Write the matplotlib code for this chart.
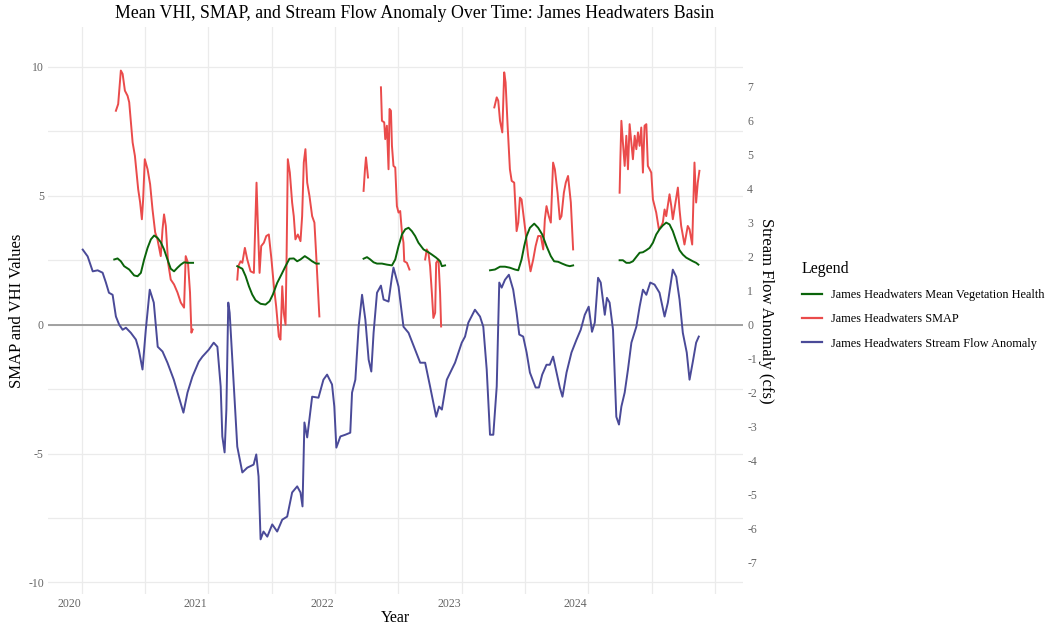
import numpy as np
import matplotlib
matplotlib.use("Agg")
import matplotlib.pyplot as plt
from matplotlib.lines import Line2D

plt.rcParams['font.family'] = ['Liberation Serif', 'DejaVu Serif']

nan = np.nan

# ---------------- data ----------------
# Mean Vegetation Health (VHI, left axis); NaN separates the seasons
vhi_year = [
    2020.257, 2020.283, 2020.309, 2020.335, 2020.375, 2020.414, 2020.441, 2020.467, 2020.493, 2020.520,
    2020.546, 2020.572, 2020.598, 2020.624, 2020.650, 2020.677, 2020.703, 2020.729, 2020.756, 2020.782,
    2020.808, 2020.835, 2020.861, 2020.879, nan,
    2021.228, 2021.268, 2021.294, 2021.320, 2021.346, 2021.372, 2021.412, 2021.451, 2021.483, 2021.509,
    2021.543, 2021.577, 2021.609, 2021.640, 2021.674, 2021.701, 2021.727, 2021.761, 2021.792, 2021.819,
    2021.850, 2021.871, nan,
    2022.225, 2022.252, 2022.278, 2022.304, 2022.331, 2022.370, 2022.409, 2022.449, 2022.475, 2022.501,
    2022.528, 2022.554, 2022.580, 2022.606, 2022.632, 2022.658, 2022.698, 2022.737, 2022.764, 2022.798,
    2022.829, 2022.843, 2022.868, nan,
    2023.223, 2023.262, 2023.302, 2023.341, 2023.380, 2023.420, 2023.446, 2023.472, 2023.493, 2023.512,
    2023.538, 2023.572, 2023.603, 2023.635, 2023.669, 2023.703, 2023.729, 2023.761, 2023.792, 2023.827,
    2023.853, 2023.879, nan,
    2024.246, 2024.272, 2024.299, 2024.325, 2024.351, 2024.378, 2024.404, 2024.430, 2024.457, 2024.483,
    2024.509, 2024.535, 2024.561, 2024.587, 2024.614, 2024.640, 2024.666, 2024.693, 2024.719, 2024.745,
    2024.772, 2024.798, 2024.824, 2024.850, 2024.868,
]
vhi_value = [
    2.53, 2.57, 2.46, 2.27, 2.14, 1.91, 1.88, 2.01, 2.53, 2.98,
    3.31, 3.46, 3.37, 3.20, 2.92, 2.53, 2.17, 2.07, 2.21, 2.33,
    2.42, 2.40, 2.40, 2.40, nan,
    2.27, 2.17, 1.88, 1.49, 1.17, 0.95, 0.81, 0.78, 0.91, 1.17,
    1.62, 1.95, 2.27, 2.56, 2.57, 2.46, 2.53, 2.66, 2.56, 2.46,
    2.37, 2.37, nan,
    2.56, 2.62, 2.53, 2.42, 2.37, 2.37, 2.33, 2.30, 2.53, 3.05,
    3.50, 3.70, 3.76, 3.63, 3.44, 3.18, 2.92, 2.81, 2.72, 2.60,
    2.46, 2.27, 2.30, nan,
    2.11, 2.14, 2.25, 2.25, 2.21, 2.14, 2.11, 2.53, 3.05, 3.44,
    3.76, 3.92, 3.76, 3.50, 3.05, 2.66, 2.46, 2.44, 2.37, 2.30,
    2.27, 2.30, nan,
    2.50, 2.50, 2.40, 2.40, 2.46, 2.63, 2.79, 2.81, 2.89, 2.98,
    3.18, 3.50, 3.70, 3.85, 3.96, 3.89, 3.63, 3.24, 2.89, 2.72,
    2.60, 2.53, 2.46, 2.40, 2.33,
]

# SMAP (left axis); NaN marks missing stretches
smap_year = [
    2020.270, 2020.288, 2020.309, 2020.323, 2020.341, 2020.362, 2020.375, 2020.402, 2020.420, 2020.446,
    2020.461, 2020.475, 2020.485, 2020.498, 2020.520, 2020.540, 2020.559, 2020.580, 2020.598, 2020.624,
    2020.638, 2020.650, 2020.664, 2020.682, 2020.703, 2020.729, 2020.756, 2020.782, 2020.808, 2020.821,
    2020.839, 2020.855, 2020.866, 2020.876, nan,
    2021.228, 2021.236, 2021.254, 2021.268, 2021.288, 2021.307, 2021.333, 2021.359, 2021.372, 2021.380,
    2021.391, 2021.404, 2021.417, 2021.438, 2021.457, 2021.477, 2021.498, 2021.517, 2021.535, 2021.556,
    2021.569, 2021.583, 2021.595, 2021.609, 2021.617, 2021.627, 2021.643, 2021.661, 2021.674, 2021.687,
    2021.706, 2021.727, 2021.740, 2021.753, 2021.766, 2021.780, 2021.798, 2021.819, 2021.837, 2021.850,
    2021.866, 2021.876, nan,
    2022.225, 2022.236, 2022.244, 2022.252, 2022.260, nan,
    2022.362, 2022.370, 2022.388, 2022.396, 2022.409, 2022.422, 2022.430, 2022.441, 2022.449, 2022.461,
    2022.475, 2022.488, 2022.501, 2022.514, 2022.528, 2022.540, 2022.546, 2022.567, 2022.587, nan,
    2022.711, 2022.724, 2022.737, 2022.750, 2022.764, 2022.776, 2022.790, 2022.798, 2022.816, 2022.829,
    2022.837, nan,
    2023.257, 2023.276, 2023.288, 2023.302, 2023.320, 2023.335, 2023.346, 2023.362, 2023.380, 2023.394,
    2023.414, 2023.433, 2023.446, 2023.459, 2023.472, 2023.485, 2023.504, 2023.524, 2023.543, 2023.564,
    2023.583, 2023.603, 2023.624, 2023.643, 2023.656, 2023.669, 2023.687, 2023.703, 2023.721, 2023.735,
    2023.756, 2023.774, 2023.787, 2023.806, 2023.821, 2023.839, 2023.861, 2023.879, nan,
    2024.246, 2024.252, 2024.260, 2024.272, 2024.286, 2024.299, 2024.312, 2024.325, 2024.339, 2024.351,
    2024.365, 2024.378, 2024.391, 2024.404, 2024.417, 2024.430, 2024.443, 2024.457, 2024.469, 2024.483,
    2024.496, 2024.509, 2024.535, 2024.556, 2024.575, 2024.587, 2024.601, 2024.614, 2024.640, 2024.654,
    2024.666, 2024.687, 2024.706, 2024.719, 2024.732, 2024.758, 2024.784, 2024.798, 2024.819, 2024.837,
    2024.850, 2024.863, 2024.876,
]
smap_value = [
    8.30, 8.56, 9.86, 9.73, 9.08, 8.88, 8.63, 7.07, 6.55, 5.25,
    4.75, 4.09, 4.86, 6.42, 6.03, 5.45, 4.47, 3.58, 3.31, 2.66,
    3.70, 4.28, 3.83, 2.40, 1.75, 1.56, 1.25, 0.86, 0.66, 2.66,
    2.40, 1.25, -0.31, -0.19, nan,
    1.75, 2.27, 2.46, 2.40, 2.98, 2.53, 2.07, 2.01, 4.21, 5.51,
    3.83, 2.01, 3.05, 3.18, 3.44, 3.50, 2.53, 1.49, 0.71, -0.46,
    -0.58, 1.49, 0.46, 0.00, 2.53, 6.42, 5.90, 4.74, 4.21, 3.31,
    3.50, 3.24, 4.21, 6.29, 6.81, 5.51, 4.99, 4.21, 3.96, 2.79,
    1.23, 0.32, nan,
    5.19, 6.03, 6.49, 6.10, 5.71, nan,
    9.21, 7.91, 7.85, 7.20, 7.72, 6.03, 8.37, 8.30, 6.94, 6.16,
    6.10, 4.60, 4.35, 4.41, 3.57, 3.18, 2.46, 2.40, 2.14, nan,
    2.53, 2.92, 2.79, 2.27, 1.23, 0.26, 0.46, 2.40, 2.53, 1.23,
    -0.07, nan,
    8.43, 8.82, 8.69, 7.91, 7.46, 9.79, 9.40, 7.72, 6.03, 5.58,
    5.51, 3.63, 3.96, 4.93, 4.86, 4.35, 3.57, 2.66, 2.07, 2.53,
    3.05, 3.44, 3.44, 2.92, 4.09, 4.60, 4.21, 3.96, 6.29, 6.03,
    5.12, 4.09, 4.21, 5.12, 5.51, 5.77, 4.74, 2.92, nan,
    5.12, 6.42, 7.91, 7.07, 6.16, 7.33, 6.03, 7.78, 7.07, 6.42,
    7.33, 6.81, 7.46, 6.94, 7.65, 5.90, 7.72, 7.78, 6.16, 6.03,
    5.90, 4.86, 4.35, 3.70, 3.83, 3.96, 4.47, 4.21, 5.06, 4.60,
    4.09, 4.74, 5.32, 4.47, 3.83, 3.11, 3.83, 3.70, 3.11, 6.29,
    4.74, 5.51, 5.97,
]

# Stream flow anomaly (cfs, right axis)
flow_year = [
    2020.008, 2020.047, 2020.087, 2020.126, 2020.165, 2020.191, 2020.215, 2020.244, 2020.270, 2020.296,
    2020.323, 2020.349, 2020.388, 2020.428, 2020.451, 2020.480, 2020.506, 2020.537, 2020.569, 2020.600,
    2020.638, 2020.677, 2020.727, 2020.766, 2020.803, 2020.835, 2020.874, 2020.924, 2020.953, 2021.002,
    2021.042, 2021.071, 2021.097, 2021.110, 2021.128, 2021.142, 2021.157, 2021.168, 2021.189, 2021.228,
    2021.268, 2021.307, 2021.357, 2021.378, 2021.396, 2021.412, 2021.435, 2021.465, 2021.504, 2021.543,
    2021.583, 2021.622, 2021.661, 2021.701, 2021.727, 2021.743, 2021.758, 2021.780, 2021.819, 2021.869,
    2021.908, 2021.937, 2021.976, 2021.994, 2022.010, 2022.042, 2022.081, 2022.120, 2022.134, 2022.160,
    2022.186, 2022.213, 2022.239, 2022.265, 2022.286, 2022.304, 2022.331, 2022.362, 2022.383, 2022.422,
    2022.449, 2022.461, 2022.501, 2022.540, 2022.580, 2022.632, 2022.672, 2022.711, 2022.750, 2022.798,
    2022.821, 2022.843, 2022.882, 2022.947, 2023.000, 2023.026, 2023.052, 2023.104, 2023.144, 2023.170,
    2023.197, 2023.223, 2023.249, 2023.276, 2023.296, 2023.315, 2023.341, 2023.372, 2023.406, 2023.433,
    2023.454, 2023.485, 2023.512, 2023.538, 2023.583, 2023.609, 2023.635, 2023.669, 2023.695, 2023.721,
    2023.748, 2023.774, 2023.795, 2023.827, 2023.866, 2023.906, 2023.939, 2023.971, 2024.002, 2024.028,
    2024.050, 2024.076, 2024.097, 2024.129, 2024.146, 2024.167, 2024.194, 2024.220, 2024.241, 2024.260,
    2024.286, 2024.312, 2024.339, 2024.378, 2024.404, 2024.430, 2024.457, 2024.488, 2024.522, 2024.561,
    2024.601, 2024.627, 2024.666, 2024.693, 2024.719, 2024.745, 2024.776, 2024.798, 2024.824, 2024.850,
    2024.871,
]
flow_value = [
    2.21, 2.01, 1.57, 1.60, 1.53, 1.24, 0.94, 0.88, 0.24, 0.00,
    -0.15, -0.09, -0.24, -0.44, -0.74, -1.32, -0.15, 1.03, 0.65, -0.65,
    -0.79, -1.12, -1.62, -2.12, -2.59, -2.00, -1.53, -1.09, -0.94, -0.74,
    -0.53, -0.65, -1.82, -3.29, -3.76, -2.50, 0.65, 0.35, -1.03, -3.59,
    -4.35, -4.21, -4.12, -3.82, -4.47, -6.32, -6.09, -6.24, -5.88, -6.09,
    -5.74, -5.65, -4.94, -4.76, -4.94, -5.35, -2.88, -3.32, -2.12, -2.15,
    -1.62, -1.47, -1.76, -2.41, -3.62, -3.29, -3.24, -3.18, -2.00, -1.62,
    -0.06, 0.88, 0.15, -1.03, -1.38, -0.24, 0.94, 1.15, 0.74, 0.68,
    1.41, 1.68, 1.12, -0.06, -0.24, -0.74, -1.12, -1.12, -1.82, -2.71,
    -2.41, -2.50, -1.62, -1.12, -0.53, -0.35, 0.06, 0.44, 0.24, -0.06,
    -1.32, -3.24, -3.24, -1.82, 1.24, 1.09, 1.32, 1.47, 1.03, 0.35,
    -0.29, -0.35, -0.82, -1.41, -1.85, -1.85, -1.47, -1.18, -1.18, -0.94,
    -1.41, -1.85, -2.12, -1.41, -0.82, -0.44, -0.15, 0.29, 0.53, -0.21,
    0.06, 1.38, 1.24, 0.29, 0.79, 0.65, -0.15, -2.71, -2.94, -2.41,
    -2.00, -1.32, -0.53, -0.06, 0.53, 1.03, 0.88, 1.24, 1.18, 0.94,
    0.24, 0.65, 1.62, 1.41, 0.74, -0.24, -0.82, -1.62, -1.09, -0.53,
    -0.35,
]

left_ticks = [-10, -5, 0, 5, 10]
right_ticks = list(range(-7, 8))
year_ticks = [2020, 2021, 2022, 2023, 2024]

# ---------------- styling ----------------
C_VHI = '#0a640a'
C_SMAP = '#ea4b4b'
C_FLOW = '#4a4a98'
GRID = '#ebebeb'
TICK_C = '#666666'
flow_scale = 1.318        # left-axis units per cfs (secondary axis ratio)
ylim_left = (-10.45, 11.55)
xlim = (2019.734, 2025.22)

W, H = 1045, 625
fig = plt.figure(figsize=(W / 100, H / 100), dpi=100)
L, R, T, B = 48, 743, 27, 594
ax = fig.add_axes([L / W, 1 - B / H, (R - L) / W, (B - T) / H])

ax.set_xlim(*xlim)
ax.set_ylim(*ylim_left)
for s in ax.spines.values():
    s.set_visible(False)

# grid: vertical every half year, horizontal every 2.5 units
ax.set_xticks(np.arange(2020, 2025.01, 0.5), minor=True)
ax.set_yticks(np.arange(-10, 10.01, 2.5), minor=True)
ax.grid(True, which='minor', color=GRID, lw=0.9, zorder=0)
ax.tick_params(which='minor', length=0)

# year labels sit slightly left of the year gridlines (as in the reference)
ax.set_xticks([y - 0.1 for y in year_ticks])
ax.set_xticklabels([str(y) for y in year_ticks])
ax.set_yticks(left_ticks)
ax.set_yticklabels([str(v) for v in left_ticks])
ax.grid(False, which='major', axis='x')
ax.grid(True, which='major', axis='y', color=GRID, lw=0.9, zorder=0)
ax.tick_params(which='major', length=0, labelsize=8.5, labelcolor=TICK_C, pad=3)
ax.set_axisbelow(True)

ax.axhline(0, color='#9a9a9a', lw=1.3, zorder=1)

ax.plot(smap_year, smap_value, color=C_SMAP, lw=1.4, zorder=3)
ax.plot(vhi_year, vhi_value, color=C_VHI, lw=1.4, zorder=4)

ax2 = ax.twinx()
ax2.set_ylim(ylim_left[0] / flow_scale, ylim_left[1] / flow_scale)
for s in ax2.spines.values():
    s.set_visible(False)
ax2.plot(flow_year, flow_value, color=C_FLOW, lw=1.4, zorder=3)
ax2.set_yticks(right_ticks)
ax2.set_yticklabels([str(v) for v in right_ticks])
ax2.tick_params(length=0, labelsize=8.5, labelcolor=TICK_C, pad=3)

ax.set_xlabel('Year', fontsize=11.5, labelpad=0)
ax.set_ylabel('SMAP and VHI Values', fontsize=12, labelpad=2)
ax2.set_ylabel('Stream Flow Anomaly (cfs)', fontsize=12, rotation=270, labelpad=12)

fig.text(415 / W, 1 - 13 / H, 'Mean VHI, SMAP, and Stream Flow Anomaly Over Time: James Headwaters Basin',
         ha='center', va='center', fontsize=12.8)

handles = [Line2D([], [], color=C_VHI, lw=1.6),
           Line2D([], [], color=C_SMAP, lw=1.6),
           Line2D([], [], color=C_FLOW, lw=1.6)]
labels = ['James Headwaters Mean Vegetation Health',
          'James Headwaters SMAP',
          'James Headwaters Stream Flow Anomaly']
leg = fig.legend(handles, labels, title='Legend', loc='upper left',
                 bbox_to_anchor=(802 / W, 1 - 261 / H), frameon=False,
                 fontsize=8.8, title_fontsize=11.5, handlelength=1.6,
                 handletextpad=0.8, labelspacing=1.0, alignment='left',
                 borderpad=0, borderaxespad=0)

fig.savefig('out.png', dpi=100)
